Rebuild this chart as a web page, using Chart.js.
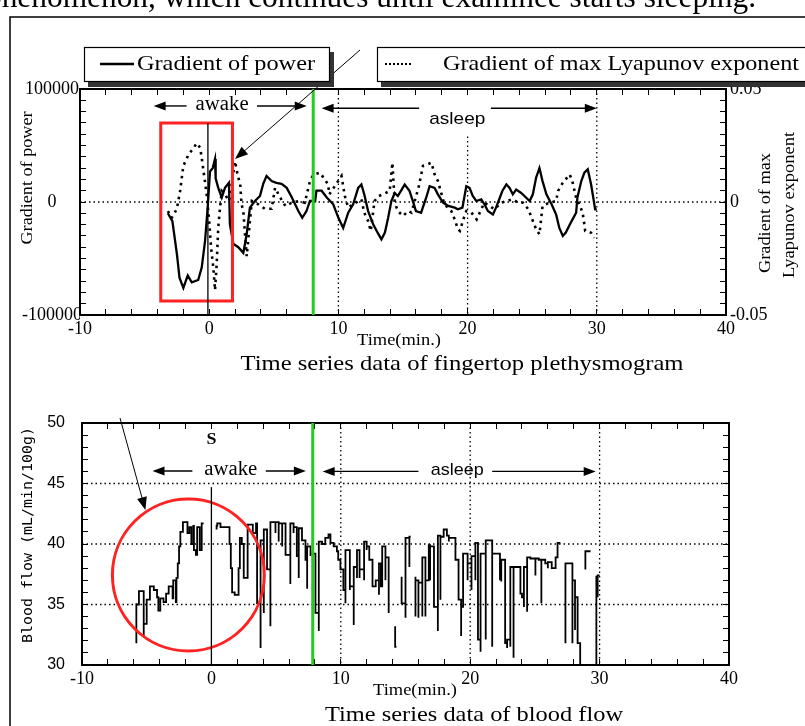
<!DOCTYPE html>
<html><head><meta charset="utf-8">
<script src="https://cdn.jsdelivr.net/npm/chart.js@4.4.1/dist/chart.umd.min.js"></script>
<style>
html,body{margin:0;padding:0;background:#fff;width:805px;height:726px;overflow:hidden}
canvas{position:absolute;left:0;top:0}
</style></head><body>
<canvas id="cTop" width="805" height="726"></canvas>
<canvas id="cBot" width="805" height="726"></canvas>
<script>
// ---------------- DATA ----------------
const powerTickLabels = [-100000, 0, 100000];
const lyapTickLabels = [-0.05, 0, 0.05];
const flowTickLabels = [30, 35, 40, 45, 50];
const timeTickLabels = [-10, 0, 10, 20, 30, 40];

// Top chart: gradient of power (solid)
const powerTime = [
 -3.2,-2.85,-2.5,-2.3,-2.0,-1.66,-1.35,-0.85,-0.58,-0.32,
 -0.1,0.06,0.27,0.45,0.5,0.7,0.97,1.22,1.53,1.6,
 1.87,2.25,2.64,2.9,3.15,3.54,3.93,4.18,4.44,4.83,
 5.2,5.6,6.0,6.4,6.9,7.2,7.53,7.8,8.2,8.3,
 8.7,9.1,9.6,10.0,10.37,10.76,11.14,11.53,11.78,12.0,
 12.3,12.7,13.1,13.33,13.6,13.85,14.1,14.36,14.6,14.9,
 15.13,15.5,15.8,16.0,16.4,16.8,17.06,17.45,17.7,18.1,
 18.5,19.0,19.25,19.6,19.9,20.15,20.4,20.67,21.06,21.3,
 21.57,21.96,22.2,22.5,22.7,23.0,23.25,23.5,23.76,24.15,
 24.4,24.8,25.05,25.3,25.56,25.8,26.1,26.5,26.85,27.1,
 27.37,27.6,28.0,28.4,28.5,28.8,29.04,29.3,29.56,29.77,
 29.87,30.0];
const powerValue = [
 -10000,-17000,-46000,-67000,-76000,-65000,-71000,-69000,-58000,-34500,
 -2000,27000,30000,38000,21000,12500,4000,12500,17000,-19500,
 -37000,-40000,-45000,-28500,-5000,900,5300,16000,23000,18500,
 17000,16000,12500,4000,-8000,-14000,-8000,900,900,10000,
 10000,4000,-2000,-14000,-23000,-9500,-2000,12500,15500,6800,
 -8000,-20000,-28500,-33000,-27000,-14000,900,8000,5300,11000,
 15500,10000,-500,-8000,-9500,4000,14000,12500,6800,-500,
 -3500,-5000,-6500,-5000,14000,12500,5300,900,2400,-2000,
 -8000,-11000,-5000,4000,10000,15500,12500,6800,11000,8000,
 5300,900,6800,21500,30000,18500,6800,-2000,-11000,-23000,
 -30000,-27000,-18000,-9500,4000,18500,26000,29000,15500,900,
 -6500,-6500];

// Top chart: gradient of max Lyapunov exponent (dotted)
const lyapTime = [
 -3.2,-2.9,-2.5,-2.25,-2.0,-1.6,-1.2,-0.97,-0.7,-0.58,
 -0.37,-0.2,0.0,0.14,0.32,0.45,0.58,0.7,0.84,0.97,
 1.22,1.53,1.74,2.0,2.2,2.4,2.5,2.64,2.77,2.9,
 3.3,3.8,4.3,4.83,5.1,5.5,5.9,6.4,6.9,7.4,
 7.8,8.05,8.56,8.95,9.2,9.3,10.24,10.37,10.5,10.76,
 11.14,11.78,12.0,12.3,12.5,12.8,13.1,13.46,13.97,14.18,
 14.36,14.6,15.0,15.4,15.65,16.2,16.55,16.9,17.2,17.45,
 17.7,18.2,18.74,19.0,19.25,19.4,19.67,19.9,20.3,20.7,
 21.06,21.3,21.7,22.1,22.6,23.0,23.5,23.9,24.3,24.7,
 25.05,25.3,25.56,25.8,26.3,26.85,27.0,27.37,27.9,28.1,
 28.4,28.65,28.9,29.0,29.1,29.56,29.8];
const lyapValue = [
 -0.004,-0.007,-0.003,0.005,0.016,0.021,0.024,0.026,0.024,0.0196,
 0.0107,0.0035,-0.0084,-0.020,-0.029,-0.039,-0.0275,-0.0114,-0.0025,0.0049,
 0.0034,0.0004,0.0078,0.018,0.012,0.0078,-0.001,-0.004,-0.014,-0.024,
 0.0004,-0.001,-0.003,-0.003,0.0063,0.0019,-0.0018,-0.0003,0.0004,-0.0003,
 0.0093,0.012,0.013,0.01,0.0078,0.0034,0.0115,0.007,0.0026,-0.0025,
 -0.001,0.0012,-0.0047,-0.0084,-0.0128,0.0004,0.0026,0.0034,0.0049,0.0174,
 -0.0003,-0.004,-0.0062,-0.004,-0.0047,0.0063,0.016,0.0167,0.0174,0.0122,
 0.0093,-0.001,-0.004,-0.0077,-0.012,-0.0128,-0.0077,-0.004,-0.0047,-0.0077,
 -0.0032,-0.0003,-0.0018,-0.0032,-0.0003,0.0004,0.0012,-0.0003,-0.0003,-0.0032,
 -0.0084,-0.012,-0.0143,-0.0018,-0.0003,0.0004,0.0049,0.0085,0.0122,0.0093,
 0.0019,-0.001,-0.0047,-0.0084,-0.0128,-0.0136,-0.0158];

// Bottom chart: blood flow (step trace, null = gap)
const bfTime = [
 -5.8,-5.8,-5.6,-5.23,-5.23,-5.0,-4.75,-4.45,-4.2,-4.1,
 -3.95,-3.7,-3.5,-3.3,-3.0,-2.95,-2.75,-2.7,-2.6,-2.5,
 -2.4,-2.2,-1.85,-1.7,-1.55,-1.4,-1.35,-1.2,-1.1,-0.9,
 -0.75,-0.6,-0.4,0.4,0.45,0.7,1.0,1.4,1.5,1.6,
 1.8,2.1,2.2,2.35,2.5,2.6,2.8,3.0,3.2,3.45,
 3.53,3.8,3.8,4.05,4.05,4.3,4.56,4.56,4.95,4.95,
 5.2,5.2,5.47,5.47,5.73,5.73,6.1,6.1,6.35,6.35,
 6.6,6.6,6.75,6.75,7.0,7.27,7.4,7.4,7.66,7.66,
 8.04,8.04,8.3,8.3,8.55,8.8,9.05,9.2,9.45,9.7,
 9.8,9.97,9.97,10.2,10.2,10.36,10.36,10.7,10.7,11.0,
 11.0,11.25,11.25,11.45,11.45,11.8,11.8,12.0,12.0,12.2,
 12.45,12.45,12.7,12.95,12.95,13.1,13.2,13.45,13.45,13.7,
 13.7,13.9,14.2,14.3,14.4,14.7,14.7,15.0,15.0,15.3,
 15.3,15.4,15.6,15.77,15.77,16.0,16.0,16.3,16.3,16.54,
 16.54,16.8,16.9,16.9,17.2,17.2,17.5,17.5,17.7,17.7,
 17.95,18.2,18.35,18.35,18.86,18.86,19.1,19.3,19.3,19.45,
 19.8,19.8,20.1,20.1,20.4,20.4,20.6,20.6,20.8,20.8,
 21.2,21.2,21.7,21.7,22.3,22.3,22.4,22.4,22.7,22.7,
 22.85,22.85,23.1,23.1,23.35,23.35,23.88,23.88,24.0,24.15,
 24.15,24.4,24.4,24.65,25.04,25.04,25.3,25.5,25.5,25.8,
 25.8,26.0,26.0,26.3,26.6,26.75,26.97,27.2,27.36,27.36,
 27.9,27.9,28.1,28.1,28.3,28.3,28.5,28.5,28.7,28.9,
 29.3,29.5,29.75,29.75,29.85,29.85,30.0];
const bfFlow = [
 35.1,31.8,35.0,36.1,32.3,33.4,35.4,36.5,36.2,35.6,
 34.5,35.5,35.2,35.9,36.5,35.5,37.0,35.2,37.2,38.4,
 39.8,41.0,41.8,40.9,41.4,40.0,41.5,39.5,39.1,41.4,
 39.5,41.7,null,41.2,41.5,41.7,41.4,41.4,40.0,38.0,
 36.0,35.8,38.0,40.5,40.0,37.2,37.2,41.6,41.6,40.9,
 41.7,35.1,31.4,40.3,34.3,41.2,37.9,33.2,41.8,40.9,
 41.8,40.2,41.7,39.8,41.7,41.2,39.1,36.7,41.7,40.9,
 41.4,40.3,39.0,37.2,41.3,40.3,38.7,36.3,39.8,39.0,
 39.2,37.3,34.3,32.8,40.2,40.0,40.5,40.8,40.1,39.8,
 39.4,38.7,37.9,37.9,37.0,36.2,35.1,39.5,36.2,36.5,
 33.3,38.1,37.2,39.5,37.2,37.9,37.0,40.2,39.5,39.8,
 38.7,37.6,36.5,37.0,35.8,38.4,36.5,39.8,37.0,38.9,
 34.3,null,33.2,31.5,null,37.3,35.9,35.1,33.9,40.5,
 38.1,40.6,null,37.3,34.0,37.0,33.9,36.8,34.0,38.9,
 34.0,37.0,39.9,37.0,39.8,36.2,34.8,32.8,40.7,35.4,
 40.6,41.2,40.7,40.2,40.5,38.7,38.7,35.4,32.4,34.8,
 39.2,37.0,38.4,36.2,39.0,37.0,40.1,36.2,32.1,31.1,
 39.2,32.1,40.3,31.5,39.2,37.0,37.3,36.9,38.7,35.6,
 31.8,31.4,32.1,31.5,38.1,30.6,38.1,37.0,35.9,35.6,
 34.8,38.1,34.4,38.9,38.8,37.4,38.8,38.7,35.1,38.7,
 38.4,38.4,38.0,38.5,38.0,38.9,40.1,null,36.5,31.8,
 38.4,31.8,37.0,32.9,35.6,32.1,31.8,30.0,null,37.9,
 39.4,null,33.4,30.0,37.3,35.6,37.4];

// ---------------- HELPERS ----------------
const SERIF = '"Liberation Serif","Times New Roman",serif';
const SANS = '"Liberation Sans",Arial,sans-serif';
const MONO = '"DejaVu Sans Mono","Liberation Mono",monospace';
const GREEN = '#22cc22';
const RED = '#ff2222';

function fmt(v, list){ const t = list.find(t => Math.abs(t - v) < 1e-9); return t === undefined ? '' : String(t); }

function fitText(ctx, text, cx, cy, w, font, rot){
  ctx.save();
  ctx.font = font; ctx.fillStyle = '#000';
  ctx.textAlign = 'center'; ctx.textBaseline = 'middle';
  const m = ctx.measureText(text).width;
  ctx.translate(cx, cy);
  if (rot) ctx.rotate(rot);
  ctx.scale(w / m, 1);
  ctx.fillText(text, 0, 0);
  ctx.restore();
}
function arrow(ctx, x1, y1, x2, y2, len, half, lw){
  const a = Math.atan2(y2 - y1, x2 - x1), c = Math.cos(a), s = Math.sin(a);
  ctx.save(); ctx.strokeStyle = '#000'; ctx.fillStyle = '#000'; ctx.lineWidth = lw;
  ctx.beginPath(); ctx.moveTo(x1, y1); ctx.lineTo(x2 - len * c * 0.7, y2 - len * s * 0.7); ctx.stroke();
  ctx.beginPath(); ctx.moveTo(x2, y2);
  ctx.lineTo(x2 - len * c + half * s, y2 - len * s - half * c);
  ctx.lineTo(x2 - len * c - half * s, y2 - len * s + half * c);
  ctx.closePath(); ctx.fill(); ctx.restore();
}
function dotted(ctx, x1, y1, x2, y2){
  ctx.save(); ctx.strokeStyle = '#000'; ctx.lineWidth = 1.3; ctx.setLineDash([1.5, 3]);
  ctx.beginPath(); ctx.moveTo(x1, y1); ctx.lineTo(x2, y2); ctx.stroke(); ctx.restore();
}
function vline(ctx, x, y1, y2, color, lw){
  ctx.save(); ctx.strokeStyle = color; ctx.lineWidth = lw;
  ctx.beginPath(); ctx.moveTo(x, y1); ctx.lineTo(x, y2); ctx.stroke(); ctx.restore();
}

function axisX(extra){
  return Object.assign({
    type: 'linear', min: -10, max: 40,
    ticks: { stepSize: 2, autoSkip: false, maxRotation: 0, color: '#000',
             font: { family: SERIF, size: 18 }, padding: 9,
             callback: v => fmt(v, timeTickLabels) },
    grid: { drawOnChartArea: false, tickLength: -6, color: '#000', lineWidth: 1 },
    border: { color: '#000', width: 2 }
  }, extra);
}
function blankAxis(extra){
  return Object.assign({
    ticks: { autoSkip: false, callback: () => '' },
    grid: { drawOnChartArea: false, tickLength: -6, color: '#000', lineWidth: 1 },
    border: { color: '#000', width: 2 }
  }, extra);
}

// ---------------- TOP CHART ----------------
const topDeco = {
  id: 'topDeco',
  beforeDatasetsDraw(c){
    const ctx = c.ctx, X = c.scales.x, Y = c.scales.y, a = c.chartArea;
    dotted(ctx, a.left, Y.getPixelForValue(0), a.right, Y.getPixelForValue(0));
    dotted(ctx, X.getPixelForValue(10), a.top, X.getPixelForValue(10), a.bottom);
    dotted(ctx, X.getPixelForValue(20), Y.getPixelForValue(58000), X.getPixelForValue(20), a.bottom);
    dotted(ctx, X.getPixelForValue(30), a.top, X.getPixelForValue(30), a.bottom);
  },
  afterDraw(c){
    const ctx = c.ctx, X = c.scales.x, Y = c.scales.y, a = c.chartArea;
    const px = v => X.getPixelForValue(v), py = v => Y.getPixelForValue(v);
    // red box, black line at 0, green line
    ctx.save(); ctx.strokeStyle = RED; ctx.lineWidth = 3;
    ctx.strokeRect(px(-3.75), py(69900), px(1.8) - px(-3.75), py(-87600) - py(69900));
    ctx.restore();
    vline(ctx, px(-0.1), py(69900), a.bottom, '#000', 1.3);
    vline(ctx, px(8.05), a.top, a.bottom, GREEN, 3);
    // awake / asleep
    arrow(ctx, px(-1.75), py(85000), px(-4.3), py(85000), 12, 4.5, 1.4);
    fitText(ctx, 'awake', px(1.0), py(85000) - 1, 53, '20px ' + SERIF);
    arrow(ctx, px(3.7), py(85000), px(7.55), py(85000), 12, 4.5, 1.4);
    arrow(ctx, px(16.25), py(83000), px(8.7), py(83000), 12, 4.5, 1.4);
    fitText(ctx, 'asleep', px(19.2), py(73500), 56, '17px ' + SANS);
    arrow(ctx, px(21.8), py(83000), px(30.0), py(83000), 12, 4.5, 1.4);
    // pointer arrow from legend to box
    arrow(ctx, 360, 50, px(2.0), py(38000), 13, 5, 1);
    // frame
    ctx.save(); ctx.strokeStyle = '#000'; ctx.lineWidth = 1.5;
    ctx.strokeRect(10, 17, 900, 900); ctx.restore();
    // cut-off sentence at the very top
    ctx.save(); ctx.font = '31px ' + SERIF; ctx.fillStyle = '#000';
    ctx.textAlign = 'left'; ctx.textBaseline = 'alphabetic';
    const s = 'phenomenon, which continues until examinee starts sleeping.';
    const m = ctx.measureText(s).width;
    ctx.translate(-14, 7); ctx.scale(770 / m, 1);
    ctx.fillText(s, 0, 0);
    ctx.restore();
    // legend boxes
    ctx.save();
    ctx.fillStyle = '#333'; ctx.fillRect(88, 52, 246, 35); ctx.fillRect(381, 52, 440, 35);
    ctx.fillStyle = '#fff'; ctx.fillRect(84, 47, 246, 35); ctx.fillRect(377, 47, 440, 35);
    ctx.strokeStyle = '#000'; ctx.lineWidth = 1.2;
    ctx.strokeRect(84.5, 47.5, 245, 34); ctx.strokeRect(377.5, 47.5, 440, 34);
    ctx.lineWidth = 2.5; ctx.beginPath(); ctx.moveTo(100, 64); ctx.lineTo(134, 64); ctx.stroke();
    ctx.lineWidth = 2; ctx.setLineDash([2, 2]);
    ctx.beginPath(); ctx.moveTo(385, 64); ctx.lineTo(411, 64); ctx.stroke();
    ctx.restore();
    fitText(ctx, 'Gradient of power', 226, 64, 178, '21px ' + SERIF);
    fitText(ctx, 'Gradient of max Lyapunov exponent', 621, 64, 356, '21px ' + SERIF);
    // axis titles
    fitText(ctx, 'Gradient of power', 28, 178, 133, '16px ' + SERIF, -Math.PI / 2);
    fitText(ctx, 'Gradient of max', 766, 213, 120, '16px ' + SERIF, -Math.PI / 2);
    fitText(ctx, 'Lyapunov exponent', 790, 205, 146, '16px ' + SERIF, -Math.PI / 2);
    fitText(ctx, 'Time(min.)', 399, 341, 84, '16px ' + SERIF);
    fitText(ctx, 'Time series data of fingertop plethysmogram', 462, 364, 443, '22px ' + SERIF);
  }
};

new Chart(document.getElementById('cTop'), {
  type: 'line',
  data: { datasets: [
    { label: 'Gradient of power', yAxisID: 'y',
      data: powerTime.map((t, i) => ({ x: t, y: powerValue[i] })),
      borderColor: '#000', borderWidth: 2.3, pointRadius: 0, tension: 0, fill: false },
    { label: 'Gradient of max Lyapunov exponent', yAxisID: 'y1',
      data: lyapTime.map((t, i) => ({ x: t, y: lyapValue[i] })),
      borderColor: '#000', borderWidth: 2.6, borderDash: [2.5, 4.5], pointRadius: 0, tension: 0, fill: false }
  ]},
  options: {
    responsive: false, animation: false, devicePixelRatio: 1,
    layout: { padding: { top: 88, bottom: 371, left: 0, right: 0 } },
    plugins: { legend: { display: false }, tooltip: { enabled: false } },
    scales: {
      x: axisX({ position: 'bottom', afterFit: s => { s.height = 40; } }),
      xt: blankAxis({ type: 'linear', position: 'top', min: -10, max: 40,
        ticks: { stepSize: 2, autoSkip: false, callback: () => '' },
        afterFit: s => { s.height = 1; } }),
      y: { type: 'linear', position: 'left', min: -100000, max: 100000,
        afterFit: s => { s.width = 80; },
        ticks: { stepSize: 10000, autoSkip: false, color: '#000', crossAlign: 'center', padding: 4,
                 font: { family: SERIF, size: 18 }, callback: v => fmt(v, powerTickLabels) },
        grid: { drawOnChartArea: false, tickLength: -6, color: '#000', lineWidth: 1 },
        border: { color: '#000', width: 2 } },
      y1: { type: 'linear', position: 'right', min: -0.05, max: 0.05,
        afterFit: s => { s.width = 79; },
        ticks: { stepSize: 0.005, autoSkip: false, color: '#000', padding: 10,
                 font: { family: SERIF, size: 18 }, callback: v => fmt(v, lyapTickLabels) },
        grid: { drawOnChartArea: false, tickLength: -6, color: '#000', lineWidth: 1 },
        border: { color: '#000', width: 2 } }
    }
  },
  plugins: [topDeco]
});

// ---------------- BOTTOM CHART ----------------
const botDeco = {
  id: 'botDeco',
  beforeDatasetsDraw(c){
    const ctx = c.ctx, X = c.scales.x, Y = c.scales.y, a = c.chartArea;
    [45, 40, 35].forEach(v => dotted(ctx, a.left, Y.getPixelForValue(v), a.right, Y.getPixelForValue(v)));
    [10, 20, 30].forEach(v => dotted(ctx, X.getPixelForValue(v), a.top, X.getPixelForValue(v), a.bottom));
  },
  afterDraw(c){
    const ctx = c.ctx, X = c.scales.x, Y = c.scales.y, a = c.chartArea;
    const px = v => X.getPixelForValue(v), py = v => Y.getPixelForValue(v);
    // red circle
    const cx = px(-1.78), cy = py(37.44), r = px(-1.78 + 5.87) - cx;
    ctx.save(); ctx.strokeStyle = RED; ctx.lineWidth = 3;
    ctx.beginPath(); ctx.arc(cx, cy, r, 0, Math.PI * 2); ctx.stroke(); ctx.restore();
    vline(ctx, px(0), py(44.7), a.bottom, '#000', 1.3);
    vline(ctx, px(7.83), a.top, a.bottom, GREEN, 3);
    fitText(ctx, 'S', px(0), py(48.6), 10, 'bold 16px ' + SERIF);
    arrow(ctx, px(-1.47), py(46.03), px(-4.55), py(46.03), 12, 4.5, 1.4);
    fitText(ctx, 'awake', px(1.5), py(46.03) - 1, 53, '20px ' + SERIF);
    arrow(ctx, px(4.2), py(46.03), px(7.3), py(46.03), 12, 4.5, 1.4);
    arrow(ctx, px(16.0), py(46.0), px(8.6), py(46.0), 12, 4.5, 1.4);
    fitText(ctx, 'asleep', px(19.0), py(46.0) - 1, 53, '17px ' + SANS);
    arrow(ctx, px(21.7), py(46.0), px(29.7), py(46.0), 12, 4.5, 1.4);
    arrow(ctx, 120, 418, px(-5.1), py(42.8), 13, 5, 1);
    fitText(ctx, 'Blood flow (mL/min/100g)', 28, 535, 216, '14px ' + MONO, -Math.PI / 2);
    fitText(ctx, 'Time(min.)', 415, 691, 84, '16px ' + SERIF);
    fitText(ctx, 'Time series data of blood flow', 474, 715, 298, '22px ' + SERIF);
  }
};

new Chart(document.getElementById('cBot'), {
  type: 'line',
  data: { datasets: [
    { label: 'Blood flow', yAxisID: 'y',
      data: bfTime.map((t, i) => ({ x: t, y: bfFlow[i] })),
      borderColor: '#000', borderWidth: 1.8, pointRadius: 0, stepped: 'after', spanGaps: false, fill: false }
  ]},
  options: {
    responsive: false, animation: false, devicePixelRatio: 1,
    layout: { padding: { top: 422, bottom: 21, left: 0, right: 0 } },
    plugins: { legend: { display: false }, tooltip: { enabled: false } },
    scales: {
      x: axisX({ position: 'bottom', afterFit: s => { s.height = 40; } }),
      xt: blankAxis({ type: 'linear', position: 'top', min: -10, max: 40,
        ticks: { stepSize: 2, autoSkip: false, callback: () => '' },
        afterFit: s => { s.height = 1; } }),
      y: { type: 'linear', position: 'left', min: 30, max: 50,
        afterFit: s => { s.width = 82; },
        ticks: { stepSize: 1, autoSkip: false, color: '#000', padding: 23,
                 font: { family: SANS, size: 16 }, callback: v => fmt(v, flowTickLabels) },
        grid: { drawOnChartArea: false, tickLength: -6, color: '#000', lineWidth: 1 },
        border: { color: '#000', width: 2 } },
      yr: blankAxis({ type: 'linear', position: 'right', min: 30, max: 50,
        ticks: { stepSize: 1, autoSkip: false, callback: () => '' },
        afterFit: s => { s.width = 76; } })
    }
  },
  plugins: [botDeco]
});
</script>
</body></html>
